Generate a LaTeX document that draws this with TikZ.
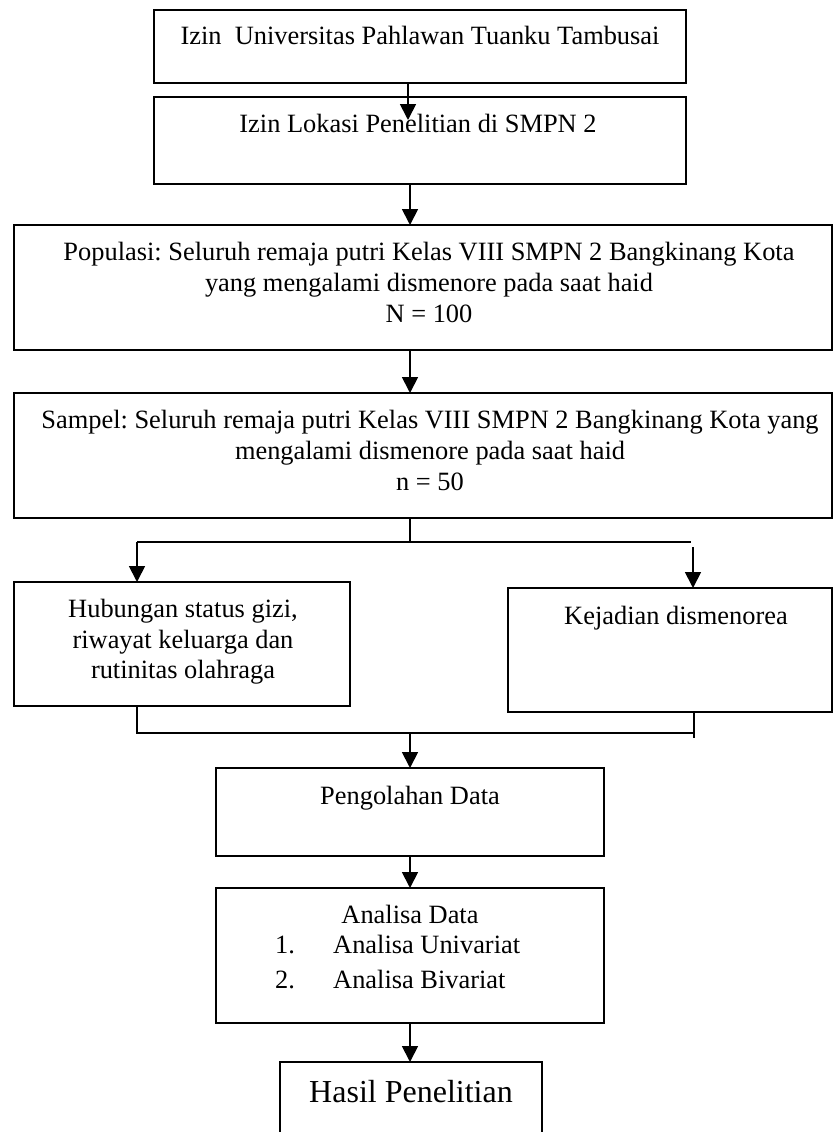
\documentclass[tikz,border=0pt]{standalone}
\usepackage{fontspec}
\setmainfont{Liberation Serif}
\frenchspacing
\usetikzlibrary{arrows.meta}
\tikzset{
  box/.style={draw, line width=1.3pt, inner sep=0pt, outer sep=0pt},
  txt/.style={anchor=base, inner sep=0pt, font=\fontsize{26.4}{30}\selectfont},
  txtl/.style={txt, anchor=base west},
  big/.style={anchor=base, inner sep=0pt, font=\fontsize{32}{38}\selectfont},
  link/.style={line width=1.3pt},
  arr/.style={line width=1.8pt, -{Triangle[width=16pt,length=16pt]}},
}
\begin{document}
\begin{tikzpicture}[x=1pt,y=-1pt]
\clip (0,0) rectangle (834,1132);
\fill[white] (0,0) rectangle (834,1132);

% boxes
\node[box, minimum width=532pt, minimum height=73pt]  (b1) at (420,46.5) {};
\node[box, minimum width=532pt, minimum height=87pt]  (b2) at (420,140.5) {};
\node[box, minimum width=818pt, minimum height=125pt] (b3) at (423,287.5) {};
\node[box, minimum width=818pt, minimum height=125pt] (b4) at (423,455.5) {};
\node[box, minimum width=336pt, minimum height=124pt] (b5) at (182,644) {};
\node[box, minimum width=324pt, minimum height=124pt] (b6) at (670,650) {};
\node[box, minimum width=388pt, minimum height=88pt]  (b7) at (410,812) {};
\node[box, minimum width=388pt, minimum height=135pt] (b8) at (410,955.5) {};
\node[box, minimum width=262pt, minimum height=88pt]  (b9) at (411,1106) {};

% texts
\node[txt] (t1) at (420,45) {Izin\ \ Universitas Pahlawan Tuanku Tambusai};
\node[txt] (t2) at (418,132) {Izin Lokasi Penelitian di SMPN 2};
\node[txt] (t3a) at (429,260) {Populasi: Seluruh remaja putri Kelas VIII SMPN 2 Bangkinang Kota};
\node[txt] (t3b) at (429,291) {yang mengalami dismenore pada saat haid};
\node[txt] (t3c) at (429,322) {N = 100};
\node[txt] (t4a) at (430,428) {Sampel: Seluruh remaja putri Kelas VIII SMPN 2 Bangkinang Kota yang};
\node[txt] (t4b) at (430,459) {mengalami dismenore pada saat haid};
\node[txt] (t4c) at (430,490) {n = 50};
\node[txt] (t5a) at (183,617) {Hubungan status gizi,};
\node[txt] (t5b) at (183,648) {riwayat keluarga dan};
\node[txt] (t5c) at (183,678) {rutinitas olahraga};
\node[txt] (t6) at (676,624) {Kejadian dismenorea};
\node[txt] (t7) at (410,804) {Pengolahan Data};
\node[txt] (t8) at (410,923) {Analisa Data};
\node[txtl] (n1) at (275,953) {1.};
\node[txtl] (u1) at (333,953) {Analisa Univariat};
\node[txtl] (n2) at (275,988) {2.};
\node[txtl] (u2) at (333,988) {Analisa Bivariat};
\node[big] (t9) at (411,1102) {Hasil Penelitian};

% junction points
\coordinate (sp)  at (410,542);
\coordinate (spL) at (137,542);
\coordinate (spR) at (691,542);
\coordinate (rs)  at (693,547);
\coordinate (m)   at (410,733);
\coordinate (mL)  at (137,733);
\coordinate (mR)  at (694,733);
\coordinate (mR2) at (694,738);
\coordinate (mL2) at (137,734);

% connectors
\draw[arr] ([xshift=-12pt]b1.south) -- ([xshift=-12pt,yshift=-23pt]b2.north);
\draw[arr] ([xshift=-10pt]b2.south) -- ([xshift=-13pt]b3.north);
\draw[arr] ([xshift=-13pt]b3.south) -- ([xshift=-13pt]b4.north);
\draw[link] (b4.south -| sp) -- (sp);
\draw[link] (spL) -- (spR);
\draw[arr] (spL) -- (spL |- b5.north);
\draw[arr] (rs) -- (rs |- b6.north);
\draw[link] (b5.south -| mL2) -- (mL2);
\draw[link] (b6.south -| mR2) -- (mR2);
\draw[link] (mL) -- (mR);
\draw[arr] (m) -- (m |- b7.north);
\draw[arr] (b7.south) -- (b8.north);
\draw[arr] (b8.south) -- (b8.south |- b9.north);
\end{tikzpicture}
\end{document}
